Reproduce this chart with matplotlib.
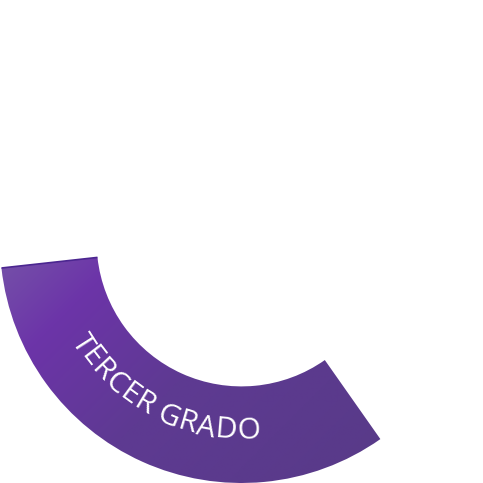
import numpy as np
import matplotlib
matplotlib.use("Agg")
import matplotlib.pyplot as plt
from matplotlib.colors import LinearSegmentedColormap

# donut data: only the visible segment is coloured
categories = ["TERCER GRADO", "resto"]
values = [33, 67]
label = "TERCER GRADO"

grad_colors = ["#7551a9", "#6c34a8", "#5e3a92", "#583a88"]
grad_stops = [0.0, 0.2, 0.5, 1.0]

fig = plt.figure(figsize=(4.83, 4.83), dpi=100)
ax = fig.add_axes([0, 0, 1, 1])

wedges, _ = ax.pie(values, radius=1, startangle=186.3, counterclock=True,
                   colors=["none", "none"],
                   wedgeprops=dict(width=0.4, linewidth=0))
seg = wedges[0]

# diagonal gradient clipped to the segment
cmap = LinearSegmentedColormap.from_list("g", list(zip(grad_stops, grad_colors)))
xs = np.linspace(-1, 1, 400)
ys = np.linspace(1, -1, 400)
X, Y = np.meshgrid(xs, ys)
t = ((X + 1) + (-0.065 - Y)) / 2.5
t = np.clip(t, 0, 1)
im = ax.imshow(t, extent=(-1, 1, -1, 1), cmap=cmap, vmin=0, vmax=1,
               interpolation="bilinear", zorder=1)
im.set_clip_path(seg)
ax.set_xlim(-1, 1)
ax.set_ylim(-1, 1)
ax.set_aspect("equal")
ax.axis("off")

# thin darker line along the upper edge
th0 = np.deg2rad(seg.theta1)
ax.plot([0.6 * np.cos(th0), np.cos(th0)], [0.6 * np.sin(th0), np.sin(th0)],
        color="#4b2690", lw=1.2, zorder=2, solid_capstyle="butt")

# curved label
font = dict(family=["Open Sans", "DejaVu Sans"], size=21.5, weight="normal")
renderer = fig.canvas.get_renderer()


def width(s):
    if not s.strip():
        return 0.0
    tt = ax.text(0, 0, s, **font)
    w = tt.get_window_extent(renderer).width
    tt.remove()
    return w


total = width(label)
r_px = 190.0
r = r_px / 241.5
mid = np.deg2rad(242.8)
for i, ch in enumerate(label):
    if ch == " ":
        continue
    cx = width(label[:i + 1]) - width(ch) / 2 - total / 2
    th = mid + cx / r_px
    ax.text(r * np.cos(th), r * np.sin(th), ch, color="white",
            ha="center", va="center", rotation=np.rad2deg(th) + 90,
            rotation_mode="anchor", zorder=3, **font)

fig.savefig("out.png", dpi=100)
